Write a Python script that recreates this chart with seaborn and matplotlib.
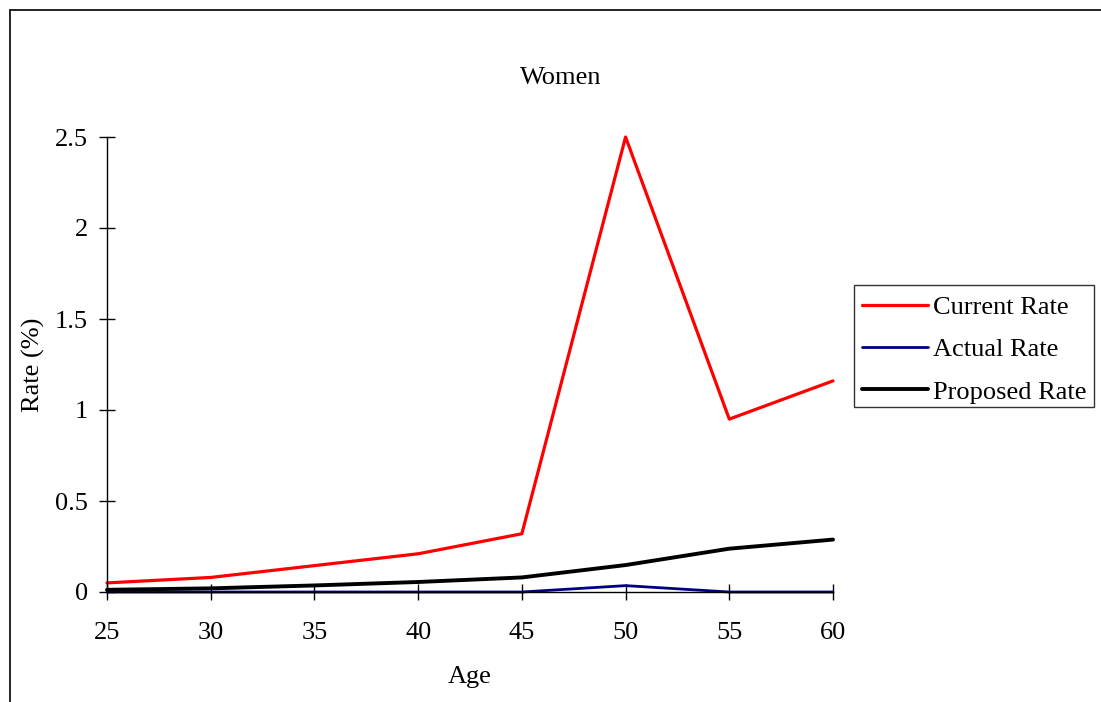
import matplotlib
matplotlib.use("Agg")
import matplotlib.pyplot as plt
import seaborn as sns
import pandas as pd
from matplotlib.lines import Line2D
from matplotlib.patches import Rectangle

ages = [25, 30, 35, 40, 45, 50, 55, 60]
current_rate = [0.05, 0.08, 0.145, 0.21, 0.32, 2.5, 0.95, 1.16]
actual_rate = [0.0, 0.0, 0.0, 0.0, 0.0, 0.035, 0.0, 0.0]
proposed_rate = [0.012, 0.02, 0.036, 0.055, 0.08, 0.148, 0.238, 0.288]
series_names = ["Current Rate", "Actual Rate", "Proposed Rate"]
colors = ["#ff0000", "#000080", "#000000"]
widths = [2.3, 2.0, 2.8]

sns.set_theme(style="white")
plt.rcParams["font.family"] = ["Liberation Serif", "DejaVu Serif"]
plt.rcParams["text.color"] = "black"
plt.rcParams["axes.labelcolor"] = "black"

FS = 19

df = pd.concat([
    pd.DataFrame({"Age": ages, "Rate": vals, "Series": name})
    for name, vals in zip(series_names, [current_rate, actual_rate, proposed_rate])
])

fig = plt.figure(figsize=(11.01, 7.02), dpi=100)
ax = fig.add_axes([107/1101, 1-592/702, (833-107)/1101, (592-137)/702])

for name, col, lw in zip(series_names, colors, widths):
    sub = df[df["Series"] == name]
    sns.lineplot(data=sub, x="Age", y="Rate", color=col, linewidth=lw, ax=ax,
                 label=name, legend=False, clip_on=False)

ax.set_xlim(25, 60)
ax.set_ylim(0, 2.5)
ax.set_xticks(ages)
ax.set_yticks([0, 0.5, 1, 1.5, 2, 2.5])
ax.set_yticklabels(["0", "0.5", "1", "1.5", "2", "2.5"])
for s in ["top", "right"]:
    ax.spines[s].set_visible(False)
for s in ["left", "bottom"]:
    ax.spines[s].set_color("black")
    ax.spines[s].set_linewidth(1.0)
ax.tick_params(axis="both", which="major", bottom=True, left=True,
               direction="inout", length=12, width=1, colors="black",
               labelcolor="black", labelsize=FS)
ax.tick_params(axis="y", pad=7.6)
ax.tick_params(axis="x", pad=15.4)

ax.set_xlabel("Age", fontsize=FS, va="center", color="black")
ax.xaxis.set_label_coords(0.5, -(677-592)/455)
ax.set_ylabel("Rate (%)", fontsize=FS, va="center", color="black")
ax.yaxis.set_label_coords((33-107)/726, 0.5)
fig.text(561/1101, 1-78/702, "Women", fontsize=FS, ha="center", va="center",
         color="black")

# Legend frame
fig.add_artist(Rectangle((854/1101, 1-407/702), (1094-854)/1101, (407-285)/702,
                         transform=fig.transFigure, fill=False,
                         edgecolor="#333333", linewidth=1.0))
handles = [Line2D([0], [0], color=c, lw=lw) for c, lw in zip(colors, widths)]
leg = fig.legend(handles, series_names, loc="center left",
                 bbox_to_anchor=(862/1101, 1-349.5/702), fontsize=FS,
                 frameon=False, handlelength=2.5,
                 borderpad=0, labelspacing=0.72, handletextpad=0.18,
                 borderaxespad=0)
for t in leg.get_texts():
    t.set_color("black")

# Outer chart border (left and top visible)
fig.add_artist(Line2D([10/1101, 10/1101], [0, 1-10/702], color="black", lw=1.2,
                      transform=fig.transFigure))
fig.add_artist(Line2D([10/1101, 1], [1-10/702, 1-10/702], color="black", lw=1.2,
                      transform=fig.transFigure))

fig.savefig("out.png", dpi=100)
